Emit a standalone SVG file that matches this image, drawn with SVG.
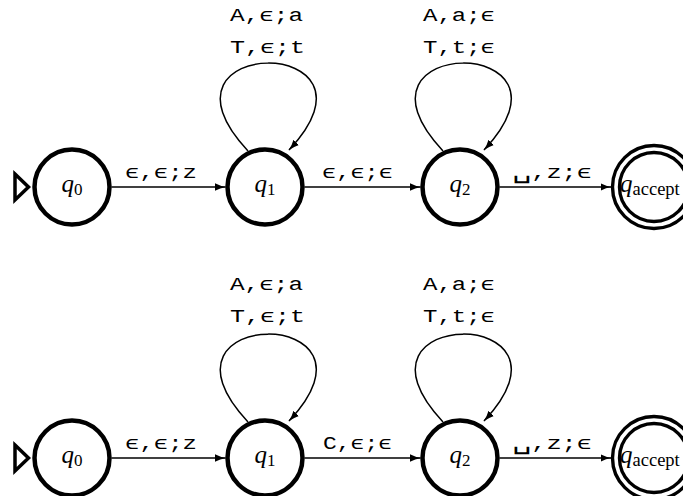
<svg xmlns="http://www.w3.org/2000/svg" width="683" height="496" viewBox="0 0 683 496">
  <style>
    .state { fill: #fff; stroke: #000; stroke-width: 4.5; }
    .acc { fill: none; stroke: #000; stroke-width: 3.4; }
    .start { fill: #fff; stroke: #000; stroke-width: 3.5; stroke-linejoin: miter; }
    .edge { fill: none; stroke: #000; stroke-width: 1.5; marker-end: url(#tip); }
    .lbl { font-family: "Liberation Mono", "DejaVu Sans Mono", monospace; font-size: 19px; fill: #000; }
    .blank { font-size: 24px; }
    .q { font-family: "Liberation Serif", "DejaVu Serif", serif; font-style: italic; font-size: 25px; fill: #000; }
    .sub { font-style: normal; font-size: 17px; }
    .subacc { font-style: normal; font-size: 18.5px; }
  </style>
  <defs>
    <marker id="tip" markerUnits="userSpaceOnUse" markerWidth="12" markerHeight="10" viewBox="0 0 12 10" refX="10.5" refY="5" orient="auto">
      <path d="M0,1.3 Q5,4 11,5 Q5,6 0,8.7 z" fill="#000"/>
    </marker>
  </defs>

  <!-- upper automaton -->
  <g id="connectors-top">
    <path class="edge" d="M111.5,187 H225.5"/>
    <path class="edge" d="M304.5,187 H420.5"/>
    <path class="edge" d="M499.5,187 H611"/>
    <path class="edge" d="M248,151 C138,34 398,34 289,150"/>
    <path class="edge" d="M443,151 C333,34 593,34 484,150"/>
    <text class="lbl" x="125" y="178" textLength="72" lengthAdjust="spacingAndGlyphs">ϵ,ϵ;z</text>
    <text class="lbl" x="322" y="178" textLength="71" lengthAdjust="spacingAndGlyphs">ϵ,ϵ;ϵ</text>
    <text class="lbl" x="512" y="178" textLength="80" lengthAdjust="spacingAndGlyphs"><tspan class="blank">␣</tspan>,z;ϵ</text>
    <text class="lbl" x="230" y="20.5" textLength="73" lengthAdjust="spacingAndGlyphs">A,ϵ;a</text>
    <text class="lbl" x="230" y="52.5" textLength="75" lengthAdjust="spacingAndGlyphs">T,ϵ;t</text>
    <text class="lbl" x="423" y="20.5" textLength="72" lengthAdjust="spacingAndGlyphs">A,a;ϵ</text>
    <text class="lbl" x="423" y="52.5" textLength="72" lengthAdjust="spacingAndGlyphs">T,t;ϵ</text>
  </g>
  <g id="top-q0">
    <polygon class="start" points="15,174 28.5,187 15,200"/>
    <circle class="state" cx="72" cy="187" r="37.5"/>
    <text class="q" x="72" y="192" text-anchor="middle">q<tspan class="sub" dy="3">0</tspan></text>
  </g>
  <g id="top-q1">
    <circle class="state" cx="265" cy="187" r="37.5"/>
    <text class="q" x="265" y="192" text-anchor="middle">q<tspan class="sub" dy="3">1</tspan></text>
  </g>
  <g id="top-q2">
    <circle class="state" cx="460" cy="187" r="37.5"/>
    <text class="q" x="460" y="192" text-anchor="middle">q<tspan class="sub" dy="3">2</tspan></text>
  </g>
  <g id="top-qaccept">
    <circle class="acc" cx="654" cy="187" r="41.5"/>
    <circle class="acc" cx="654" cy="187" r="34.5"/>
    <text class="q" x="620" y="192">q<tspan class="subacc" dy="3">accept</tspan></text>
  </g>

  <!-- lower automaton -->
  <g id="connectors-bottom">
    <path class="edge" d="M111.5,458 H225.5"/>
    <path class="edge" d="M304.5,458 H420.5"/>
    <path class="edge" d="M499.5,458 H611"/>
    <path class="edge" d="M248,422 C138,305 398,305 289,421"/>
    <path class="edge" d="M443,422 C333,305 593,305 484,421"/>
    <text class="lbl" x="125" y="449" textLength="72" lengthAdjust="spacingAndGlyphs">ϵ,ϵ;z</text>
    <text class="lbl" x="323" y="449" textLength="69" lengthAdjust="spacingAndGlyphs">C,ϵ;ϵ</text>
    <text class="lbl" x="512" y="449" textLength="80" lengthAdjust="spacingAndGlyphs"><tspan class="blank">␣</tspan>,z;ϵ</text>
    <text class="lbl" x="230" y="290" textLength="73" lengthAdjust="spacingAndGlyphs">A,ϵ;a</text>
    <text class="lbl" x="230" y="322" textLength="75" lengthAdjust="spacingAndGlyphs">T,ϵ;t</text>
    <text class="lbl" x="423" y="290" textLength="72" lengthAdjust="spacingAndGlyphs">A,a;ϵ</text>
    <text class="lbl" x="423" y="322" textLength="72" lengthAdjust="spacingAndGlyphs">T,t;ϵ</text>
  </g>
  <g id="bottom-q0">
    <polygon class="start" points="15,445 28.5,458 15,471"/>
    <circle class="state" cx="72" cy="458" r="37.5"/>
    <text class="q" x="72" y="463" text-anchor="middle">q<tspan class="sub" dy="3">0</tspan></text>
  </g>
  <g id="bottom-q1">
    <circle class="state" cx="265" cy="458" r="37.5"/>
    <text class="q" x="265" y="463" text-anchor="middle">q<tspan class="sub" dy="3">1</tspan></text>
  </g>
  <g id="bottom-q2">
    <circle class="state" cx="460" cy="458" r="37.5"/>
    <text class="q" x="460" y="463" text-anchor="middle">q<tspan class="sub" dy="3">2</tspan></text>
  </g>
  <g id="bottom-qaccept">
    <circle class="acc" cx="654" cy="458" r="41.5"/>
    <circle class="acc" cx="654" cy="458" r="34.5"/>
    <text class="q" x="620" y="463">q<tspan class="subacc" dy="3">accept</tspan></text>
  </g>
</svg>
